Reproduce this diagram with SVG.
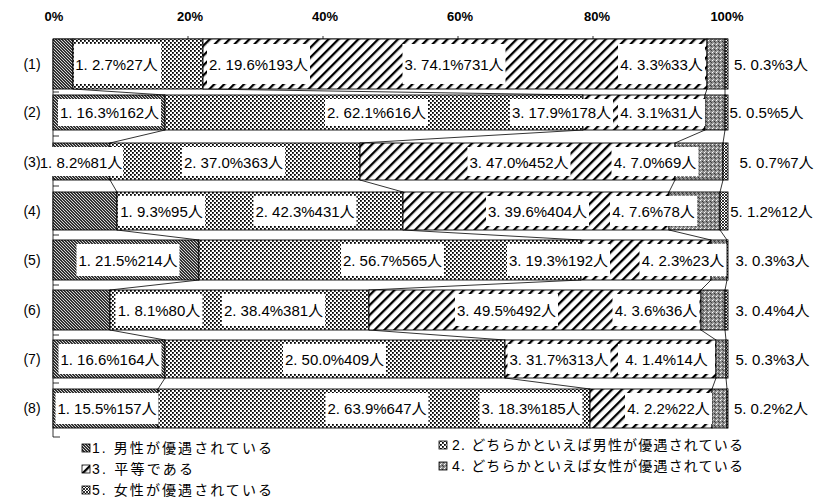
<svg xmlns="http://www.w3.org/2000/svg" width="831" height="500" viewBox="0 0 831 500">
<style>
text{font-family:"Liberation Sans","Noto Sans CJK JP",sans-serif;fill:#000}
.ax{font-size:13px;font-weight:bold;text-anchor:middle}
.rl{font-size:14px;text-anchor:middle}
.lb{font-size:15px;text-anchor:middle}
.lg{font-size:14px}
.seg{stroke:#000;stroke-width:0.9}
.box{fill:#fff}
.s1{fill:url(#p1)}.s2{fill:url(#p2)}.s3{fill:url(#p3)}.s4{fill:url(#p4)}.s5{fill:url(#p5)}
.ln{stroke:#000;stroke-width:0.8;fill:none}
.ic{stroke:#000;stroke-width:0.8}
</style>
<defs>
<pattern id="p1" width="3" height="3" patternUnits="userSpaceOnUse"><rect width="3" height="3" fill="#333"/><path d="M-1,-1 L4,4" stroke="#fff" stroke-width="0.8"/></pattern>
<pattern id="p2" width="4" height="4" patternUnits="userSpaceOnUse"><rect width="4" height="4" fill="#fff"/><rect x="0" y="0" width="1.8" height="1.8" fill="#000"/><rect x="2" y="2" width="1.8" height="1.8" fill="#000"/></pattern>
<pattern id="p3" width="7" height="7" patternUnits="userSpaceOnUse" patternTransform="rotate(45)"><rect width="7" height="7" fill="#fff"/><rect x="0" y="0" width="2.3" height="7" fill="#000"/></pattern>
<pattern id="p4" width="4" height="4" patternUnits="userSpaceOnUse"><rect width="4" height="4" fill="#8c8c8c"/><rect x="0" y="0" width="1" height="1" fill="#fff"/><rect x="2" y="1" width="1" height="1" fill="#333"/><rect x="1" y="3" width="1" height="1" fill="#ddd"/><rect x="3" y="2" width="1" height="1" fill="#444"/></pattern>
<pattern id="p5" width="3" height="3" patternUnits="userSpaceOnUse"><rect width="3" height="3" fill="#fff"/><path d="M0,0 L3,3 M3,0 L0,3" stroke="#000" stroke-width="0.8"/></pattern>
</defs>
<rect width="831" height="500" fill="#fff"/>

<g id="axis">
<text class="ax" x="54" y="21">0%</text>
<text class="ax" x="190" y="21">20%</text>
<text class="ax" x="325" y="21">40%</text>
<text class="ax" x="460" y="21">60%</text>
<text class="ax" x="597" y="21">80%</text>
<text class="ax" x="727" y="21">100%</text>
<path class="ln" d="M53,39 H728 M188,36 V39 M323,36 V39 M458,36 V39 M593,36 V39 M53,39 V437 H60 M53,92 H59 M53,136 H59 M53,186 H59 M53,235 H59 M53,285 H59 M53,335 H59 M53,383 H59"/>
<text class="rl" x="32" y="69">(1)</text>
<text class="rl" x="32" y="117">(2)</text>
<text class="rl" x="32" y="167">(3)</text>
<text class="rl" x="32" y="216">(4)</text>
<text class="rl" x="32" y="265">(5)</text>
<text class="rl" x="32" y="315">(6)</text>
<text class="rl" x="32" y="364">(7)</text>
<text class="rl" x="32" y="413">(8)</text>
</g>

<g id="series-lines">
<path class="ln" d="M73,89 L165,95 M203,89 L583,95 M707,89 L705,95 M725,89 L725,95
M165,130 L110,143 M583,130 L360,143 M705,130 L675,143 M725,130 L723,143
M110,180 L117,192 M360,180 L403,192 M675,180 L669,192 M723,180 L720,192
M117,230 L199,240 M403,230 L581,240 M669,230 L711,240 M720,230 L727,240
M199,280 L110,290 M581,280 L369,290 M711,280 L701,290 M727,280 L725,290
M110,330 L165,340 M369,330 L505,340 M701,330 L716,340 M725,330 L726,340
M165,378 L158,389 M505,378 L590,389 M716,378 L712,389 M726,378 L727,389"/>
</g>

<g id="bar1">
<rect class="seg s1" x="53" y="39" width="20" height="50"/>
<rect class="seg s2" x="73" y="39" width="130" height="50"/>
<rect class="seg s3" x="203" y="39" width="504" height="50"/>
<rect class="seg s4" x="707" y="39" width="18" height="50"/>
<rect class="seg s5" x="725" y="39" width="3" height="50"/>
<rect class="box" x="74" y="44" width="87" height="40"/>
<rect class="box" x="207" y="44" width="103" height="40"/>
<rect class="box" x="402.5" y="44" width="103" height="40"/>
<rect class="box" x="618" y="44" width="87" height="40"/>
<text class="lb" x="116.5" y="69.5">1. 2.7%27人</text>
<text class="lb" x="258.5" y="69.5">2. 19.6%193人</text>
<text class="lb" x="454" y="69.5">3. 74.1%731人</text>
<text class="lb" x="661.5" y="69.5">4. 3.3%33人</text>
<text class="lb" x="771" y="69.5">5. 0.3%3人</text>
</g>

<g id="bar2">
<rect class="seg s1" x="53" y="95" width="112" height="35"/>
<rect class="seg s2" x="165" y="95" width="418" height="35"/>
<rect class="seg s3" x="583" y="95" width="122" height="35"/>
<rect class="seg s4" x="705" y="95" width="20" height="35"/>
<rect class="seg s5" x="725" y="95" width="3" height="35"/>
<rect class="box" x="58" y="99" width="103" height="27"/>
<rect class="box" x="325" y="99" width="103" height="27"/>
<rect class="box" x="510" y="99" width="103" height="27"/>
<rect class="box" x="618" y="99" width="87" height="27"/>
<text class="lb" x="109.5" y="117.5">1. 16.3%162人</text>
<text class="lb" x="376.5" y="117.5">2. 62.1%616人</text>
<text class="lb" x="561.5" y="117.5">3. 17.9%178人</text>
<text class="lb" x="661.5" y="117.5">4. 3.1%31人</text>
<text class="lb" x="766.5" y="117.5">5. 0.5%5人</text>
</g>

<g id="bar3">
<rect class="seg s1" x="53" y="143" width="57" height="37"/>
<rect class="seg s2" x="110" y="143" width="250" height="37"/>
<rect class="seg s3" x="360" y="143" width="315" height="37"/>
<rect class="seg s4" x="675" y="143" width="48" height="37"/>
<rect class="seg s5" x="723" y="143" width="5" height="37"/>
<rect class="box" x="41" y="147" width="82" height="29"/>
<rect class="box" x="182" y="147" width="103" height="29"/>
<rect class="box" x="467.5" y="147" width="103" height="29"/>
<rect class="box" x="611.5" y="147" width="87" height="29"/>
<text class="lb" x="81" y="167.5">1. 8.2%81人</text>
<text class="lb" x="233.5" y="167.5">2. 37.0%363人</text>
<text class="lb" x="519" y="167.5">3. 47.0%452人</text>
<text class="lb" x="655" y="167.5">4. 7.0%69人</text>
<text class="lb" x="776.5" y="167.5">5. 0.7%7人</text>
</g>

<g id="bar4">
<rect class="seg s1" x="53" y="192" width="64" height="38"/>
<rect class="seg s2" x="117" y="192" width="286" height="38"/>
<rect class="seg s3" x="403" y="192" width="266" height="38"/>
<rect class="seg s4" x="669" y="192" width="51" height="38"/>
<rect class="seg s5" x="720" y="192" width="8" height="38"/>
<rect class="box" x="118" y="196" width="87" height="30"/>
<rect class="box" x="253.5" y="196" width="103" height="30"/>
<rect class="box" x="486" y="196" width="103" height="30"/>
<rect class="box" x="610" y="196" width="87" height="30"/>
<text class="lb" x="161.5" y="216.5">1. 9.3%95人</text>
<text class="lb" x="305" y="216.5">2. 42.3%431人</text>
<text class="lb" x="537.5" y="216.5">3. 39.6%404人</text>
<text class="lb" x="653.5" y="216.5">4. 7.6%78人</text>
<text class="lb" x="771.5" y="216.5">5. 1.2%12人</text>
</g>

<g id="bar5">
<rect class="seg s1" x="53" y="240" width="146" height="40"/>
<rect class="seg s2" x="199" y="240" width="382" height="40"/>
<rect class="seg s3" x="581" y="240" width="130" height="40"/>
<rect class="seg s4" x="711" y="240" width="16" height="40"/>
<rect class="seg s5" x="727" y="240" width="1" height="40"/>
<rect class="box" x="76.5" y="244" width="103" height="32"/>
<rect class="box" x="341" y="244" width="103" height="32"/>
<rect class="box" x="507" y="244" width="103" height="32"/>
<rect class="box" x="639.5" y="244" width="87" height="32"/>
<text class="lb" x="128" y="265.5">1. 21.5%214人</text>
<text class="lb" x="392.5" y="265.5">2. 56.7%565人</text>
<text class="lb" x="558.5" y="265.5">3. 19.3%192人</text>
<text class="lb" x="683" y="265.5">4. 2.3%23人</text>
<text class="lb" x="772.5" y="265.5">3. 0.3%3人</text>
</g>

<g id="bar6">
<rect class="seg s1" x="53" y="290" width="57" height="40"/>
<rect class="seg s2" x="110" y="290" width="259" height="40"/>
<rect class="seg s3" x="369" y="290" width="332" height="40"/>
<rect class="seg s4" x="701" y="290" width="24" height="40"/>
<rect class="seg s5" x="725" y="290" width="3" height="40"/>
<rect class="box" x="115.5" y="294" width="87" height="32"/>
<rect class="box" x="222" y="294" width="103" height="32"/>
<rect class="box" x="455" y="294" width="103" height="32"/>
<rect class="box" x="612.5" y="294" width="87" height="32"/>
<text class="lb" x="159" y="315.5">1. 8.1%80人</text>
<text class="lb" x="273.5" y="315.5">2. 38.4%381人</text>
<text class="lb" x="506.5" y="315.5">3. 49.5%492人</text>
<text class="lb" x="656" y="315.5">4. 3.6%36人</text>
<text class="lb" x="772.5" y="315.5">3. 0.4%4人</text>
</g>

<g id="bar7">
<rect class="seg s1" x="53" y="340" width="112" height="38"/>
<rect class="seg s2" x="165" y="340" width="340" height="38"/>
<rect class="seg s3" x="505" y="340" width="211" height="38"/>
<rect class="seg s4" x="716" y="340" width="10" height="38"/>
<rect class="seg s5" x="726" y="340" width="2" height="38"/>
<rect class="box" x="58.5" y="344" width="103" height="30"/>
<rect class="box" x="283" y="344" width="103" height="30"/>
<rect class="box" x="507.5" y="344" width="103" height="30"/>
<rect class="box" x="618" y="344" width="97" height="30"/>
<text class="lb" x="110" y="364.5">1. 16.6%164人</text>
<text class="lb" x="334.5" y="364.5">2. 50.0%409人</text>
<text class="lb" x="559" y="364.5">3. 31.7%313人</text>
<text class="lb" x="666.5" y="364.5">4. 1.4%14人</text>
<text class="lb" x="772.5" y="364.5">5. 0.3%3人</text>
</g>

<g id="bar8">
<rect class="seg s1" x="53" y="389" width="105" height="39"/>
<rect class="seg s2" x="158" y="389" width="432" height="39"/>
<rect class="seg s3" x="590" y="389" width="122" height="39"/>
<rect class="seg s4" x="712" y="389" width="15" height="39"/>
<rect class="seg s5" x="727" y="389" width="1" height="39"/>
<rect class="box" x="55.5" y="393" width="103" height="31"/>
<rect class="box" x="325.5" y="393" width="103" height="31"/>
<rect class="box" x="479.5" y="393" width="103" height="31"/>
<rect class="box" x="625" y="393" width="87" height="31"/>
<text class="lb" x="107" y="413.5">1. 15.5%157人</text>
<text class="lb" x="377" y="413.5">2. 63.9%647人</text>
<text class="lb" x="531" y="413.5">3. 18.3%185人</text>
<text class="lb" x="668.5" y="413.5">4. 2.2%22人</text>
<text class="lb" x="771" y="413.5">5. 0.2%2人</text>
</g>

<g id="legend">
<rect class="ic s1" x="82" y="444" width="8" height="8"/>
<text class="lg" x="92" y="453" textLength="180" lengthAdjust="spacing">1. 男性が優遇されている</text>
<rect class="ic s3" x="82" y="465" width="8" height="8"/>
<text class="lg" x="92" y="474" textLength="101" lengthAdjust="spacing">3. 平等である</text>
<rect class="ic s5" x="82" y="486" width="8" height="8"/>
<text class="lg" x="92" y="495" textLength="180" lengthAdjust="spacing">5. 女性が優遇されている</text>
<rect class="ic s2" x="439" y="441" width="8" height="8"/>
<text class="lg" x="452" y="450" textLength="291" lengthAdjust="spacing">2. どちらかといえば男性が優遇されている</text>
<rect class="ic s4" x="439" y="462" width="8" height="8"/>
<text class="lg" x="452" y="471" textLength="291" lengthAdjust="spacing">4. どちらかといえば女性が優遇されている</text>
</g>
</svg>
